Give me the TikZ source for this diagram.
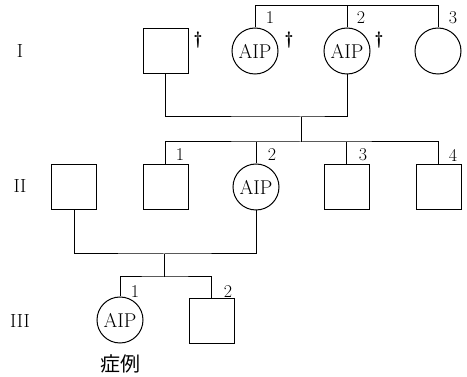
\documentclass[tikz,border=0pt]{standalone}
\usepackage{fontspec}
\newfontfamily\cjk{Noto Sans CJK JP}
\begin{document}
\begin{tikzpicture}[x=1pt,y=-1pt,
  line width=1pt,
  male/.style={draw, minimum size=45pt, inner sep=0pt},
  female/.style={draw, circle, minimum size=46pt, inner sep=0pt, font=\fontsize{20}{20}\selectfont},
  num/.style={font=\fontsize{18}{18}\selectfont, inner sep=0pt},
  gen/.style={font=\fontsize{19}{19}\selectfont, inner sep=0pt},
  dead/.style={font=\fontsize{18}{18}\selectfont\bfseries, inner sep=0pt}]
\useasboundingbox (0,0) rectangle (467,377);

% generation labels
\node[gen] (gI) at (20,51) {I};
\node[gen] (gII) at (20,186) {II};
\node[gen] (gIII) at (20,321) {III};

% generation I
\node[male] (a0) at (165.5,51) {};
\node[female] (a1) at (255,51) {AIP};
\node[female] (a2) at (347,51) {AIP};
\node[female] (a3) at (438,51) {};
\node[dead] (d0) at (198,40) {\textdagger};
\node[dead] (d1) at (289,40) {\textdagger};
\node[dead] (d2) at (379,40) {\textdagger};
\node[num] (n1) at (270,18) {1};
\node[num] (n2) at (361,18) {2};
\node[num] (n3) at (453,18) {3};

% generation II
\node[male] (b0) at (74,187) {};
\node[male] (b1) at (165.5,187) {};
\node[female] (b2) at (256,187) {AIP};
\node[male] (b3) at (346.5,187) {};
\node[male] (b4) at (438.5,187) {};
\node[num] (m1) at (180,155) {1};
\node[num] (m2) at (272,155) {2};
\node[num] (m3) at (363,155) {3};
\node[num] (m4) at (453,155) {4};

% generation III
\node[female] (c1) at (120,320) {AIP};
\node[male] (c2) at (211.5,321.5) {};
\node[num] (k1) at (135,292) {1};
\node[num] (k2) at (228,292) {2};
\node[font=\cjk\fontsize{20}{20}\selectfont, inner sep=0pt] (case) at (120,364) {症例};

% line levels
\coordinate (topbar) at (0,6);
\coordinate (mate1) at (301,117);
\coordinate (sib2) at (301,142);
\coordinate (mate2) at (164,254);
\coordinate (sib3) at (164,277);

% sibship of generation I
\draw (a1.north) |- (a3.north |- topbar) -- (a3.north);
\draw (a2.north) -- (a2.north |- topbar);

% first marriage and its children
\draw (a0.south) |- (mate1) -| (a2.south);
\draw (mate1) -- (sib2);
\draw (b1.north) |- (sib2) -| (b4.north);
\draw (b2.north) -- (b2.north |- sib2);
\draw (b3.north) -- (b3.north |- sib2);

% second marriage and its children
\draw (b0.south) |- (mate2) -| (b2.south);
\draw (mate2) -- (sib3);
\draw (c1.north) |- (sib3) -| (c2.north);
\end{tikzpicture}
\end{document}
